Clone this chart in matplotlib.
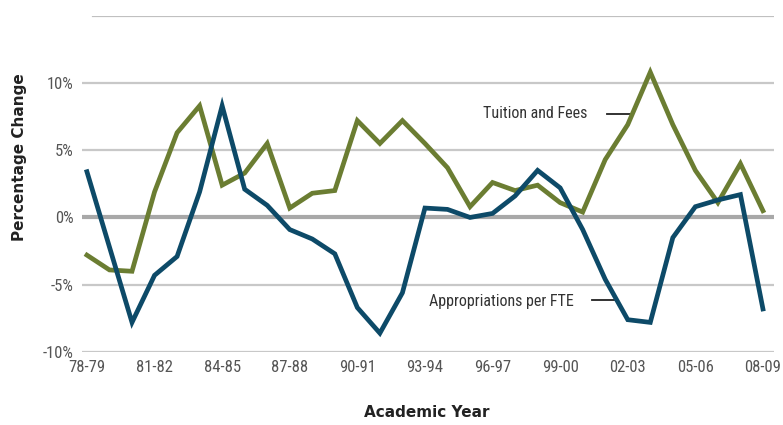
import matplotlib

matplotlib.use("Agg")
import matplotlib.pyplot as plt
from matplotlib import font_manager

# Academic years (one point per year), labelled every third year
years = ["78-79", "79-80", "80-81", "81-82", "82-83", "83-84", "84-85", "85-86",
         "86-87", "87-88", "88-89", "89-90", "90-91", "91-92", "92-93", "93-94",
         "94-95", "95-96", "96-97", "97-98", "98-99", "99-00", "00-01", "01-02",
         "02-03", "03-04", "04-05", "05-06", "06-07", "07-08", "08-09"]

tuition_fees = [-2.8, -3.9, -4.0, 1.9, 6.3, 8.3, 2.4, 3.3, 5.5, 0.7, 1.8,
                2.0, 7.2, 5.5, 7.2, 5.5, 3.7, 0.8, 2.6, 2.0, 2.4, 1.1,
                0.4, 4.3, 6.9, 10.8, 6.9, 3.5, 1.1, 4.0, 0.5]

appropriations_fte = [3.4, -2.2, -7.8, -4.3, -2.9, 1.9, 8.3, 2.1, 0.9, -0.9,
                      -1.6, -2.7, -6.7, -8.6, -5.6, 0.7, 0.6, 0.0, 0.3, 1.6,
                      3.5, 2.2, -0.9, -4.6, -7.6, -7.8, -1.5, 0.8, 1.3, 1.7,
                      -6.8]

y_ticks = [-10, -5, 0, 5, 10]
y_tick_labels = ["-10%", "-5%", "0%", "5%", "10%"]

GREEN = "#6b7d32"
BLUE = "#0d4a68"

# use a narrow face if one is installed, otherwise condensed DejaVu
available = {f.name for f in font_manager.fontManager.ttflist}
narrow = "DejaVu Sans"
for cand in ["Liberation Sans Narrow", "Roboto Condensed", "Open Sans Condensed"]:
    if cand in available:
        narrow = cand
        break
small = dict(fontfamily=narrow, fontstretch="condensed")

fig = plt.figure(figsize=(7.83, 4.25), dpi=100)
ax = fig.add_axes([0.1047, 0.1718, 0.8838, 0.7913])

x = list(range(len(years)))

# grid lines, drawn by hand so the zero line can be heavier
for v in [-10, -5, 5, 10]:
    ax.axhline(v, color="#c8c8c8", lw=1.6, zorder=1)
ax.axhline(0, color="#a8a8a8", lw=3.0, zorder=1)
ax.axhline(15, xmin=0.016, color="#c0c0c0", lw=1.6, zorder=1)

ax.plot(x, tuition_fees, color=GREEN, lw=3.4, solid_joinstyle="miter", zorder=3, clip_on=False)
ax.plot(x, appropriations_fte, color=BLUE, lw=3.4, solid_joinstyle="miter", zorder=3, clip_on=False)

ax.set_xlim(-0.22, 30.49)
ax.set_ylim(-10, 15)

ax.set_xticks(x[::3])
ax.set_xticklabels(years[::3], fontsize=12, color="#555555", **small)
ax.set_yticks(y_ticks)
ax.set_yticklabels(y_tick_labels, fontsize=12, color="#555555", **small)
ax.tick_params(axis="both", length=0)
ax.tick_params(axis="x", pad=6)
ax.tick_params(axis="y", pad=6)

for s in ax.spines.values():
    s.set_visible(False)

ax.set_ylabel("Percentage Change", fontsize=11, fontweight="bold", family="DejaVu Sans",
              color="#222222")
ax.yaxis.set_label_coords(-0.08, 0.58)
fig.text(0.545, 0.03, "Academic Year", fontsize=11, fontweight="bold", family="DejaVu Sans",
         color="#222222", ha="center", va="center")

# direct labels with short leader lines
ax.text(22.2, 7.75, "Tuition and Fees", ha="right", va="center",
        fontsize=11.5, color="#333333", **small)
ax.plot([23.1, 24.1], [7.7, 7.7], color="#222222", lw=1.3, zorder=2)
ax.text(21.6, -6.25, "Appropriations per FTE", ha="right", va="center",
        fontsize=11.5, color="#333333", **small)
ax.plot([22.4, 23.4], [-6.1, -6.1], color="#222222", lw=1.3, zorder=2)

fig.savefig("out.png", dpi=100)
